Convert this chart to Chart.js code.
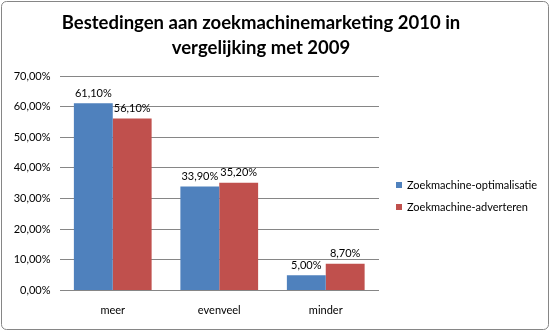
<!DOCTYPE html>
<html>
<head>
<meta charset="utf-8">
<script src="https://cdn.jsdelivr.net/npm/chart.js@4.4.1/dist/chart.umd.min.js"></script>
<style>
  body { margin: 0; background: #fff; }
  #wrap { width: 550px; height: 331px; }
</style>
</head>
<body>
<div id="wrap"><canvas id="spendChart" width="550" height="331"></canvas></div>
<script>
const categories = ['meer', 'evenveel', 'minder'];
const seoValues = [61.1, 33.9, 5.0];
const adsValues = [56.1, 35.2, 8.7];
const seriesNames = ['Zoekmachine-optimalisatie', 'Zoekmachine-adverteren'];
const titleLines = ['Bestedingen aan zoekmachinemarketing 2010 in', 'vergelijking met 2009'];
const yTicks = [0, 10, 20, 30, 40, 50, 60, 70];

const FONT = 'Lato, "Open Sans", sans-serif';

function pct(v) {
    return v.toFixed(2).replace('.', ',') + '%';
}

// frame, title, legend and value labels
const decorations = {
    id: 'decorations',
    beforeDraw(chart) {
        const ctx = chart.ctx;
        ctx.save();
        ctx.fillStyle = '#fff';
        ctx.fillRect(0, 0, chart.width, chart.height);
        ctx.strokeStyle = '#868686';
        ctx.lineWidth = 1;
        ctx.beginPath();
        ctx.roundRect(1.5, 1.5, chart.width - 3, chart.height - 3, 5);
        ctx.stroke();
        ctx.restore();
    },
    afterDatasetsDraw(chart) {
        const ctx = chart.ctx;
        ctx.save();

        // title
        ctx.fillStyle = '#000';
        ctx.textAlign = 'center';
        ctx.textBaseline = 'alphabetic';
        ctx.font = 'bold 18.5px ' + FONT;
        titleLines.forEach((line, i) => ctx.fillText(line, 261, 29 + i * 25));

        // value labels above the bars
        ctx.font = '11px ' + FONT;
        ctx.textBaseline = 'middle';
        chart.data.datasets.forEach((ds, di) => {
            chart.getDatasetMeta(di).data.forEach((bar, i) => {
                ctx.fillText(pct(ds.data[i]), bar.x, bar.y - 10);
            });
        });

        // legend
        ctx.textAlign = 'left';
        chart.data.datasets.forEach((ds, di) => {
            const y = 185 + di * 22;
            ctx.fillStyle = ds.backgroundColor;
            ctx.fillRect(396, y - 3, 6, 6);
            ctx.fillStyle = '#000';
            ctx.fillText(ds.label, 407, y);
        });
        ctx.restore();
    }
};

const ctx = document.getElementById('spendChart').getContext('2d');
const spendChart = new Chart(ctx, {
    type: 'bar',
    data: {
        labels: categories,
        datasets: [{
            label: seriesNames[0],
            data: seoValues,
            backgroundColor: '#4F81BD',
            barPercentage: 1,
            categoryPercentage: 0.73
        }, {
            label: seriesNames[1],
            data: adsValues,
            backgroundColor: '#C0504D',
            barPercentage: 1,
            categoryPercentage: 0.73
        }]
    },
    options: {
        responsive: false,
        animation: false,
        devicePixelRatio: 1,
        layout: {
            padding: { top: 76, right: 171, left: 0, bottom: 0 }
        },
        plugins: {
            legend: { display: false },
            title: { display: false },
            tooltip: { enabled: false }
        },
        scales: {
            x: {
                grid: { display: false, drawTicks: false },
                border: { display: false },
                ticks: { color: '#000', font: { family: FONT, size: 11 }, padding: 13 },
                afterFit(scale) { scale.height = 40.5; }
            },
            y: {
                min: 0,
                max: 70,
                afterBuildTicks(scale) {
                    scale.ticks = yTicks.map(v => ({ value: v }));
                },
                ticks: {
                    color: '#000',
                    font: { family: FONT, size: 11 },
                    padding: 9,
                    callback: v => pct(v)
                },
                grid: { color: '#868686', drawTicks: false },
                border: { display: false },
                afterFit(scale) { scale.width = 59.5; }
            }
        }
    },
    plugins: [decorations]
});
</script>
</body>
</html>
